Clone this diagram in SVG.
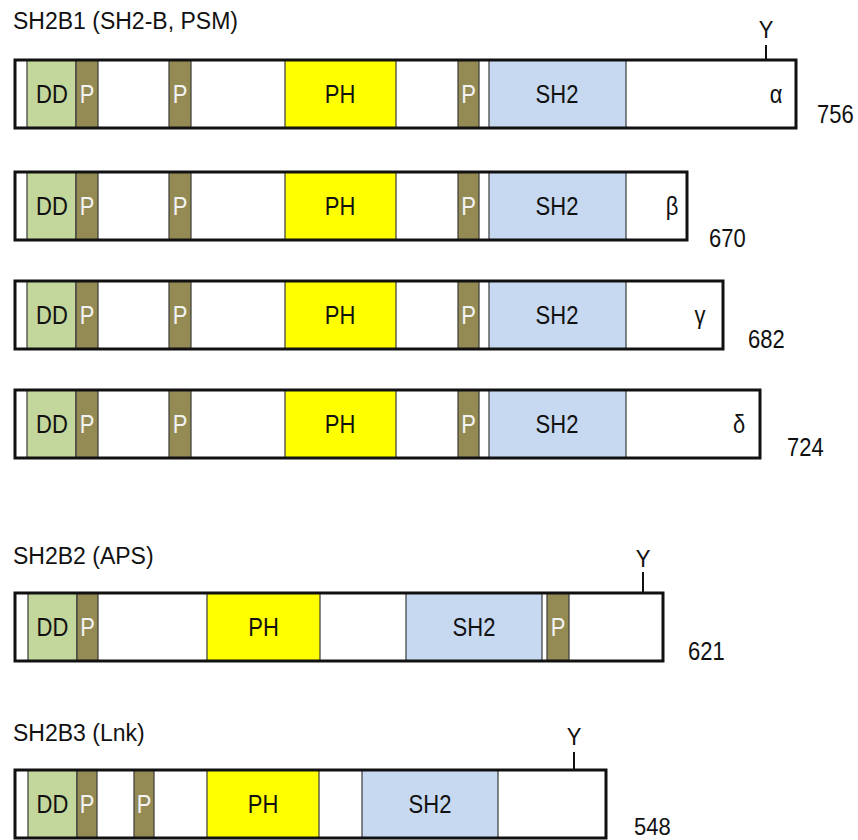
<svg xmlns="http://www.w3.org/2000/svg" width="858" height="840" viewBox="0 0 858 840">
  <style>
    .bg { fill: #ffffff; }
    .frame { fill: none; stroke: #111111; stroke-width: 3; }
    .seg { stroke: #3a3a3a; stroke-width: 1.2; }
    .dd { fill: #c3d69b; }
    .p { fill: #948a54; }
    .ph { fill: #ffff00; }
    .sh2 { fill: #c6d9f1; }
    .tick { stroke: #111111; stroke-width: 2; }
    text { font-family: "Liberation Sans", Arial, sans-serif; fill: #111111; }
    .title { font-size: 23px; }
    .lbl { font-size: 22px; text-anchor: middle; }
    .plbl { font-size: 22px; text-anchor: middle; fill: #f2f2f2; }
    .num { font-size: 22px; }
  </style>

  <!-- family headings -->
  <text class="title" x="13" y="29">SH2B1 (SH2-B, PSM)</text>
  <text class="title" x="13" y="564">SH2B2 (APS)</text>
  <text class="title" x="13" y="741">SH2B3 (Lnk)</text>

  <!-- SH2B1 alpha -->
  <g id="sh2b1-alpha">
    <rect class="bg" x="15" y="60" width="781" height="68"/>
    <rect class="seg dd" x="27" y="60" width="49" height="68"/>
    <rect class="seg p" x="76" y="60" width="22" height="68"/>
    <rect class="seg p" x="169" y="60" width="22" height="68"/>
    <rect class="seg ph" x="285" y="60" width="111" height="68"/>
    <rect class="seg p" x="458" y="60" width="21" height="68"/>
    <rect class="seg sh2" x="489" y="60" width="137" height="68"/>
    <rect class="frame" x="15" y="60" width="781" height="68"/>
    <line class="tick" x1="766" y1="45" x2="766" y2="60"/>
    <text class="lbl" transform="translate(766 38) scale(1 1.1)">Y</text>
    <text class="lbl" transform="translate(52 103) scale(1 1.15)">DD</text>
    <text class="plbl" transform="translate(87 103) scale(1 1.15)">P</text>
    <text class="plbl" transform="translate(180 103) scale(1 1.15)">P</text>
    <text class="lbl" transform="translate(340 103) scale(1 1.15)">PH</text>
    <text class="plbl" transform="translate(468.5 103) scale(1 1.15)">P</text>
    <text class="lbl" transform="translate(557 103) scale(1 1.15)">SH2</text>
    <text class="lbl" transform="translate(776 103) scale(1 1.15)">α</text>
    <text class="num" transform="translate(817 123) scale(1 1.2)">756</text>
  </g>

  <!-- SH2B1 beta -->
  <g id="sh2b1-beta">
    <rect class="bg" x="15" y="172" width="672" height="68"/>
    <rect class="seg dd" x="27" y="172" width="49" height="68"/>
    <rect class="seg p" x="76" y="172" width="22" height="68"/>
    <rect class="seg p" x="169" y="172" width="22" height="68"/>
    <rect class="seg ph" x="285" y="172" width="111" height="68"/>
    <rect class="seg p" x="458" y="172" width="21" height="68"/>
    <rect class="seg sh2" x="489" y="172" width="137" height="68"/>
    <rect class="frame" x="15" y="172" width="672" height="68"/>
    <text class="lbl" transform="translate(52 215) scale(1 1.15)">DD</text>
    <text class="plbl" transform="translate(87 215) scale(1 1.15)">P</text>
    <text class="plbl" transform="translate(180 215) scale(1 1.15)">P</text>
    <text class="lbl" transform="translate(340 215) scale(1 1.15)">PH</text>
    <text class="plbl" transform="translate(468.5 215) scale(1 1.15)">P</text>
    <text class="lbl" transform="translate(557 215) scale(1 1.15)">SH2</text>
    <text class="lbl" transform="translate(672 215) scale(1 1.15)">β</text>
    <text class="num" transform="translate(709 247) scale(1 1.2)">670</text>
  </g>

  <!-- SH2B1 gamma -->
  <g id="sh2b1-gamma">
    <rect class="bg" x="15" y="281" width="708" height="68"/>
    <rect class="seg dd" x="27" y="281" width="49" height="68"/>
    <rect class="seg p" x="76" y="281" width="22" height="68"/>
    <rect class="seg p" x="169" y="281" width="22" height="68"/>
    <rect class="seg ph" x="285" y="281" width="111" height="68"/>
    <rect class="seg p" x="458" y="281" width="21" height="68"/>
    <rect class="seg sh2" x="489" y="281" width="137" height="68"/>
    <rect class="frame" x="15" y="281" width="708" height="68"/>
    <text class="lbl" transform="translate(52 324) scale(1 1.15)">DD</text>
    <text class="plbl" transform="translate(87 324) scale(1 1.15)">P</text>
    <text class="plbl" transform="translate(180 324) scale(1 1.15)">P</text>
    <text class="lbl" transform="translate(340 324) scale(1 1.15)">PH</text>
    <text class="plbl" transform="translate(468.5 324) scale(1 1.15)">P</text>
    <text class="lbl" transform="translate(557 324) scale(1 1.15)">SH2</text>
    <text class="lbl" transform="translate(700 324) scale(1 1.15)">γ</text>
    <text class="num" transform="translate(748 348) scale(1 1.2)">682</text>
  </g>

  <!-- SH2B1 delta -->
  <g id="sh2b1-delta">
    <rect class="bg" x="15" y="390" width="745" height="68"/>
    <rect class="seg dd" x="27" y="390" width="49" height="68"/>
    <rect class="seg p" x="76" y="390" width="22" height="68"/>
    <rect class="seg p" x="169" y="390" width="22" height="68"/>
    <rect class="seg ph" x="285" y="390" width="111" height="68"/>
    <rect class="seg p" x="458" y="390" width="21" height="68"/>
    <rect class="seg sh2" x="489" y="390" width="137" height="68"/>
    <rect class="frame" x="15" y="390" width="745" height="68"/>
    <text class="lbl" transform="translate(52 433) scale(1 1.15)">DD</text>
    <text class="plbl" transform="translate(87 433) scale(1 1.15)">P</text>
    <text class="plbl" transform="translate(180 433) scale(1 1.15)">P</text>
    <text class="lbl" transform="translate(340 433) scale(1 1.15)">PH</text>
    <text class="plbl" transform="translate(468.5 433) scale(1 1.15)">P</text>
    <text class="lbl" transform="translate(557 433) scale(1 1.15)">SH2</text>
    <text class="lbl" transform="translate(739 433) scale(1 1.15)">δ</text>
    <text class="num" transform="translate(787 456) scale(1 1.2)">724</text>
  </g>

  <!-- SH2B2 -->
  <g id="sh2b2">
    <rect class="bg" x="15" y="593" width="648" height="68"/>
    <rect class="seg dd" x="28" y="593" width="49" height="68"/>
    <rect class="seg p" x="77" y="593" width="21" height="68"/>
    <rect class="seg ph" x="207" y="593" width="113" height="68"/>
    <rect class="seg sh2" x="406" y="593" width="136" height="68"/>
    <rect class="seg p" x="547" y="593" width="22" height="68"/>
    <rect class="frame" x="15" y="593" width="648" height="68"/>
    <line class="tick" x1="643" y1="572" x2="643" y2="593"/>
    <text class="lbl" transform="translate(643 567) scale(1 1.1)">Y</text>
    <text class="lbl" transform="translate(52.5 636) scale(1 1.15)">DD</text>
    <text class="plbl" transform="translate(87.5 636) scale(1 1.15)">P</text>
    <text class="lbl" transform="translate(263.5 636) scale(1 1.15)">PH</text>
    <text class="lbl" transform="translate(474 636) scale(1 1.15)">SH2</text>
    <text class="plbl" transform="translate(558 636) scale(1 1.15)">P</text>
    <text class="num" transform="translate(688 660) scale(1 1.15)">621</text>
  </g>

  <!-- SH2B3 -->
  <g id="sh2b3">
    <rect class="bg" x="15" y="770" width="591" height="68"/>
    <rect class="seg dd" x="28" y="770" width="49" height="68"/>
    <rect class="seg p" x="77" y="770" width="20" height="68"/>
    <rect class="seg p" x="134" y="770" width="20" height="68"/>
    <rect class="seg ph" x="207" y="770" width="112" height="68"/>
    <rect class="seg sh2" x="362" y="770" width="136" height="68"/>
    <rect class="frame" x="15" y="770" width="591" height="68"/>
    <line class="tick" x1="574" y1="752" x2="574" y2="770"/>
    <text class="lbl" transform="translate(574 745) scale(1 1.1)">Y</text>
    <text class="lbl" transform="translate(52.5 813) scale(1 1.15)">DD</text>
    <text class="plbl" transform="translate(87 813) scale(1 1.15)">P</text>
    <text class="plbl" transform="translate(144 813) scale(1 1.15)">P</text>
    <text class="lbl" transform="translate(263 813) scale(1 1.15)">PH</text>
    <text class="lbl" transform="translate(430 813) scale(1 1.15)">SH2</text>
    <text class="num" transform="translate(634 835) scale(1 1.1)">548</text>
  </g>
</svg>
